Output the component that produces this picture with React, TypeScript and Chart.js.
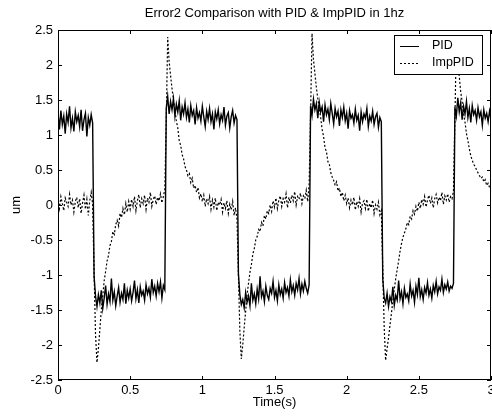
import React, { useEffect, useRef } from "react";
import { Chart, registerables } from "chart.js";

Chart.register(...registerables);

const TITLE = "Error2 Comparison with PID & ImpPID in 1hz";
const X_LABEL = "Time(s)";
const Y_LABEL = "um";
const SERIES_NAMES = ["PID", "ImpPID"];
const SAMPLE_STEP = 0.01; // seconds between samples
const X_TICKS = [0, 0.5, 1, 1.5, 2, 2.5, 3];
const Y_TICKS = [-2.5, -2, -1.5, -1, -0.5, 0, 0.5, 1, 1.5, 2, 2.5];

const PID = [
  1.32, 1.08, 1.35, 1.15, 1.27, 1.02, 1.30, 1.18, 1.41, 1.10,
  1.24, 1.05, 1.33, 1.19, 1.28, 1.12, 1.36, 1.06, 1.22, 1.31,
  0.98, 1.25, 1.14, 1.29, 1.17,
  -1.02, -1.30, -1.45, -1.28, -1.40, -1.22, -1.48, -1.33, -1.15, -1.42,
  -1.27, -1.38, -1.05, -1.36, -1.24, -1.44, -1.30, -1.18, -1.39, -1.26,
  -1.35, -1.12, -1.41, -1.22, -1.33, -1.20, -1.37, -1.25, -1.08, -1.34,
  -1.21, -1.40, -1.17, -1.29, -1.23, -1.36, -1.14, -1.27, -1.19, -1.32,
  -1.06, -1.25, -1.16, -1.30, -1.12, -1.24, -1.10, -1.33, -1.15, -1.21,
  1.38, 1.55, 1.30, 1.48, 1.36, 1.52, 1.27, 1.44, 1.33, 1.49,
  1.21, 1.40, 1.30, 1.46, 1.25, 1.37, 1.18, 1.42, 1.28, 1.35,
  1.15, 1.39, 1.24, 1.32, 1.20, 1.41, 1.26, 1.12, 1.34, 1.22,
  1.38, 1.19, 1.30, 1.08, 1.33, 1.23, 1.36, 1.16, 1.29, 1.21,
  1.40, 1.14, 1.27, 1.32, 1.10, 1.26, 1.35, 1.17, 1.28, 1.22,
  -0.98, -1.28, -1.42, -1.35, -1.47, -1.25, -1.39, -1.30, -1.44, -1.12,
  -1.36, -1.27, -1.41, -1.20, -1.34, -1.02, -1.31, -1.23, -1.38, -1.16,
  -1.29, -1.35, -1.19, -1.26, -1.09, -1.32, -1.22, -1.37, -1.14, -1.28,
  -1.20, -1.33, -1.11, -1.25, -1.18, -1.30, -1.07, -1.24, -1.15, -1.29,
  -1.12, -1.21, -1.05, -1.27, -1.13, -1.23, -1.09, -1.19, -1.26, -1.14,
  1.42, 1.28, 1.51, 1.36, 1.45, 1.24, 1.47, 1.33, 1.40, 1.19,
  1.43, 1.29, 1.37, 1.22, 1.45, 1.31, 1.16, 1.38, 1.26, 1.34,
  1.13, 1.36, 1.25, 1.40, 1.20, 1.31, 1.09, 1.35, 1.24, 1.29,
  1.17, 1.37, 1.21, 1.28, 1.06, 1.33, 1.19, 1.30, 1.24, 1.38,
  1.12, 1.27, 1.20, 1.34, 1.15, 1.26, 1.31, 1.11, 1.25, 1.19,
  -1.05, -1.33, -1.40, -1.26, -1.45, -1.31, -1.38, -1.17, -1.43, -1.29,
  -1.36, -1.08, -1.34, -1.24, -1.41, -1.19, -1.32, -1.27, -1.37, -1.13,
  -1.30, -1.22, -1.39, -1.16, -1.28, -1.04, -1.31, -1.21, -1.35, -1.18,
  -1.26, -1.11, -1.29, -1.20, -1.33, -1.15, -1.24, -1.09, -1.27, -1.17,
  -1.22, -1.06, -1.25, -1.14, -1.20, -1.10, -1.23, -1.16, -1.19, -1.12,
  1.40, 1.27, 1.53, 1.33, 1.46, 1.22, 1.41, 1.30, 1.48, 1.25,
  1.38, 1.18, 1.42, 1.29, 1.35, 1.21, 1.39, 1.26, 1.33, 1.14,
  1.36, 1.24, 1.31, 1.19, 1.34, 1.23,
];

const IMP_PID = [
  0.08, -0.05, 0.12, 0.02, -0.08, 0.10, 0.04, -0.02, 0.15, 0.00,
  0.07, -0.10, 0.05, 0.11, -0.04, 0.09, -0.12, 0.03, 0.14, -0.06,
  0.08, -0.15, 0.06, 0.18, 0.01,
  -0.95, -1.85, -2.25, -2.05, -1.78, -1.50, -1.30, -1.08, -0.95, -0.80,
  -0.72, -0.58, -0.52, -0.38, -0.42, -0.28, -0.22, -0.30, -0.12, -0.18,
  -0.05, -0.14, 0.02, -0.10, 0.05, -0.06, 0.08, -0.02, 0.12, -0.08,
  0.06, 0.15, -0.04, 0.09, 0.02, 0.14, -0.06, 0.10, 0.04, 0.18,
  -0.02, 0.08, 0.13, 0.01, 0.11, 0.06, 0.16, 0.03, 0.12, 0.22,
  1.20, 2.40, 2.05, 1.85, 1.66, 1.50, 1.36, 1.20, 1.10, 0.92,
  0.85, 0.72, 0.66, 0.55, 0.50, 0.42, 0.45, 0.32, 0.38, 0.24,
  0.28, 0.18, 0.25, 0.10, 0.16, 0.05, 0.14, -0.02, 0.09, 0.02,
  0.12, -0.06, 0.07, -0.03, 0.10, -0.08, 0.04, 0.00, 0.08, -0.10,
  0.03, -0.05, 0.06, -0.12, 0.01, -0.07, 0.05, -0.15, -0.04, -0.20,
  -1.00, -1.80, -2.20, -2.00, -1.75, -1.52, -1.28, -1.12, -0.96, -0.85,
  -0.70, -0.62, -0.50, -0.45, -0.35, -0.38, -0.25, -0.30, -0.15, -0.20,
  -0.08, -0.12, 0.00, -0.09, 0.06, -0.03, 0.10, -0.05, 0.07, 0.13,
  -0.02, 0.09, 0.04, 0.16, -0.04, 0.11, 0.03, 0.14, 0.06, 0.19,
  0.00, 0.12, 0.08, 0.17, 0.02, 0.13, 0.09, 0.21, 0.05, 0.30,
  1.30, 2.45, 2.08, 1.88, 1.68, 1.52, 1.38, 1.25, 1.08, 0.98,
  0.82, 0.76, 0.62, 0.58, 0.46, 0.40, 0.35, 0.28, 0.33, 0.20,
  0.24, 0.12, 0.18, 0.06, 0.14, 0.02, 0.10, -0.04, 0.07, 0.00,
  0.11, -0.07, 0.05, -0.02, 0.09, -0.10, 0.03, 0.06, -0.05, 0.08,
  -0.09, 0.02, -0.04, 0.07, -0.12, 0.00, -0.06, 0.04, -0.14, -0.08,
  -0.90, -1.75, -2.22, -2.05, -1.90, -1.72, -1.55, -1.38, -1.20, -1.05,
  -0.92, -0.80, -0.66, -0.55, -0.46, -0.40, -0.34, -0.25, -0.28, -0.16,
  -0.20, -0.08, -0.13, -0.02, -0.09, 0.04, -0.05, 0.08, 0.01, 0.12,
  -0.03, 0.07, 0.14, 0.02, 0.10, -0.04, 0.09, 0.15, 0.03, 0.11,
  0.06, 0.18, 0.01, 0.13, 0.07, 0.16, 0.04, 0.12, 0.09, 0.20,
  1.25, 2.35, 2.05, 1.84, 1.62, 1.48, 1.30, 1.18, 1.02, 0.92,
  0.80, 0.70, 0.64, 0.58, 0.55, 0.50, 0.46, 0.42, 0.38, 0.40,
  0.33, 0.36, 0.28, 0.31, 0.25, 0.27,
];

const FONT = '"Liberation Sans", Arial, Helvetica, sans-serif';

const boxPlugin = {
  id: "matlabBox",
  afterDraw(chart: any) {
    const { ctx, chartArea: a, scales } = chart;
    const x = scales.x;
    const y = scales.y;
    ctx.save();
    ctx.strokeStyle = "#000";
    ctx.lineWidth = 1;
    ctx.setLineDash([]);
    ctx.strokeRect(a.left + 0.5, a.top + 0.5, a.right - a.left - 1, a.bottom - a.top - 1);
    const TL = 4;
    ctx.beginPath();
    X_TICKS.forEach((v) => {
      const px = Math.round(x.getPixelForValue(v)) + 0.5;
      ctx.moveTo(px, a.bottom);
      ctx.lineTo(px, a.bottom - TL);
      ctx.moveTo(px, a.top);
      ctx.lineTo(px, a.top + TL);
    });
    Y_TICKS.forEach((v) => {
      const py = Math.round(y.getPixelForValue(v)) + 0.5;
      ctx.moveTo(a.left, py);
      ctx.lineTo(a.left + TL, py);
      ctx.moveTo(a.right, py);
      ctx.lineTo(a.right - TL, py);
    });
    ctx.stroke();

    // legend box (MATLAB style, inside the axes, top right)
    const bx = a.right - 97;
    const by = a.top + 5;
    const bw = 88;
    const bh = 39;
    ctx.fillStyle = "#fff";
    ctx.fillRect(bx, by, bw, bh);
    ctx.strokeRect(bx + 0.5, by + 0.5, bw, bh);
    ctx.font = `12.5px ${FONT}`;
    ctx.textBaseline = "middle";
    ctx.textAlign = "left";
    ctx.fillStyle = "#000";
    chart.data.datasets.forEach((ds: any, i: number) => {
      const ry = by + 11 + i * 17;
      ctx.lineWidth = 1;
      ctx.setLineDash(ds.borderDash || []);
      ctx.beginPath();
      ctx.moveTo(bx + 6, ry + 0.5);
      ctx.lineTo(bx + 25, ry + 0.5);
      ctx.stroke();
      ctx.setLineDash([]);
      ctx.fillText(ds.label, bx + 38, ry);
    });
    ctx.restore();
  },
};

export default function App() {
  const ref = useRef<HTMLCanvasElement>(null);
  useEffect(() => {
    document.body.style.margin = "0";
    const canvas = ref.current!;
    const time = PID.map((_, i) => Math.round(i * SAMPLE_STEP * 100) / 100);
    const tickFont = { family: FONT, size: 13, weight: "normal" as const };
    const chart = new Chart(canvas, {
      type: "line",
      data: {
        datasets: [
          {
            label: SERIES_NAMES[0],
            data: PID.map((v, i) => ({ x: time[i], y: v })),
            borderColor: "#000",
            borderWidth: 1.4,
            pointRadius: 0,
            tension: 0,
            fill: false,
          },
          {
            label: SERIES_NAMES[1],
            data: IMP_PID.map((v, i) => ({ x: time[i], y: v })),
            borderColor: "#000",
            borderWidth: 1.2,
            borderDash: [2, 2],
            pointRadius: 0,
            tension: 0,
            fill: false,
          },
        ],
      },
      options: {
        responsive: false,
        animation: false,
        devicePixelRatio: 1,
        layout: { padding: { left: 0, right: 1, top: 0, bottom: 0 } },
        plugins: {
          legend: { display: false },
          tooltip: { enabled: false },
          title: {
            display: true,
            text: TITLE,
            color: "#000",
            fullSize: false,
            font: tickFont,
            padding: { top: 6, bottom: 8.4 },
          },
        },
        scales: {
          x: {
            type: "linear",
            min: 0,
            max: 3,
            grid: { display: false, drawTicks: false },
            border: { display: false },
            ticks: {
              color: "#000",
              font: tickFont,
              padding: 3,
              autoSkip: false,
              maxRotation: 0,
              callback: (v: any) => String(v),
            },
            afterBuildTicks: (s: any) => {
              s.ticks = X_TICKS.map((v) => ({ value: v }));
            },
            afterFit: (s: any) => {
              s.height = 39;
              s.paddingLeft = 0;
              s.paddingRight = 0;
            },
            title: {
              display: true,
              text: X_LABEL,
              color: "#000",
              font: tickFont,
              padding: { top: 0, bottom: 9 },
            },
          },
          y: {
            type: "linear",
            min: -2.5,
            max: 2.5,
            grid: { display: false, drawTicks: false },
            border: { display: false },
            ticks: {
              color: "#000",
              font: tickFont,
              padding: 5,
              autoSkip: false,
              callback: (v: any) => String(v),
            },
            afterBuildTicks: (s: any) => {
              s.ticks = Y_TICKS.map((v) => ({ value: v }));
            },
            afterFit: (s: any) => {
              s.width = 58;
              s.paddingTop = 0;
              s.paddingBottom = 0;
            },
            title: {
              display: true,
              text: Y_LABEL,
              color: "#000",
              font: tickFont,
              padding: { top: 9, bottom: 0 },
            },
          },
        },
      },
      plugins: [boxPlugin],
    });
    return () => chart.destroy();
  }, []);
  return <canvas ref={ref} width={492} height={419} style={{ display: "block" }} />;
}
